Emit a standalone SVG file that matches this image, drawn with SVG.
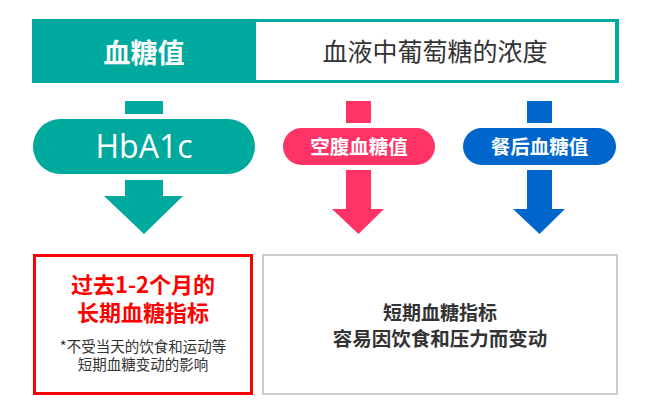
<svg xmlns="http://www.w3.org/2000/svg" width="650" height="416" viewBox="0 0 650 416">
<style>
.cjk{font-family:"Noto Sans CJK SC","Noto Sans",sans-serif;text-anchor:middle}
.b{font-weight:700}
.w{fill:#fff}
.d{fill:#333}
.teal{fill:#00A99D}
.pink{fill:#FF3366}
.blue{fill:#0066CC}
</style>
<rect width="650" height="416" fill="#fff"/>
<g id="header">
<rect class="teal" x="32" y="19" width="587" height="64"/>
<rect x="256" y="22" width="359" height="58" fill="#fff"/>
<text class="cjk b w" x="144" y="63" font-size="27">血糖值</text>
<text class="cjk d" x="435" y="61" font-size="25">血液中葡萄糖的浓度</text>
</g>
<g id="connectors">
<rect class="teal" x="125" y="101" width="38" height="13"/>
<path class="teal" d="M125 180H163V196H183L144 234L104 196H125Z"/>
<rect class="pink" x="346" y="101" width="25" height="22"/>
<path class="pink" d="M346 170H371V209H384L358.5 234L332 209H346Z"/>
<rect class="blue" x="527" y="101" width="25" height="22"/>
<path class="blue" d="M527 170H552V209H565L539.5 234L513 209H527Z"/>
</g>
<g id="hba1c">
<rect class="teal" x="33" y="119" width="222" height="55" rx="27.5"/>
<text x="144" y="158" font-size="32" font-family="'Open Sans','Noto Sans',sans-serif" text-anchor="middle" class="w">HbA1c</text>
</g>
<g id="fasting">
<rect class="pink" x="283" y="128" width="152" height="37" rx="18.5"/>
<text class="cjk b w" x="359" y="154" font-size="19.5">空腹血糖值</text>
</g>
<g id="postmeal">
<rect class="blue" x="463" y="128" width="153" height="37" rx="18.5"/>
<text class="cjk b w" x="539.5" y="154" font-size="19.5">餐后血糖值</text>
</g>
<g id="longterm">
<rect x="34.5" y="255.5" width="217" height="138" fill="#fff" stroke="#FF0000" stroke-width="3"/>
<text class="cjk b" x="143" y="293" font-size="22" fill="#FF0000">过去1-2个月的</text>
<text class="cjk b" x="143" y="321" font-size="22" fill="#FF0000">长期血糖指标</text>
<text class="cjk d" x="143" y="352" font-size="14.5">*不受当天的饮食和运动等</text>
<text class="cjk d" x="143" y="370" font-size="14.5">短期血糖变动的影响</text>
</g>
<g id="shortterm">
<rect x="263" y="255" width="354" height="139" fill="#fff" stroke="#CCCCCC" stroke-width="2"/>
<text class="cjk b d" x="440" y="320" font-size="19">短期血糖指标</text>
<text class="cjk b d" x="440" y="346" font-size="19.5">容易因饮食和压力而变动</text>
</g>
</svg>
